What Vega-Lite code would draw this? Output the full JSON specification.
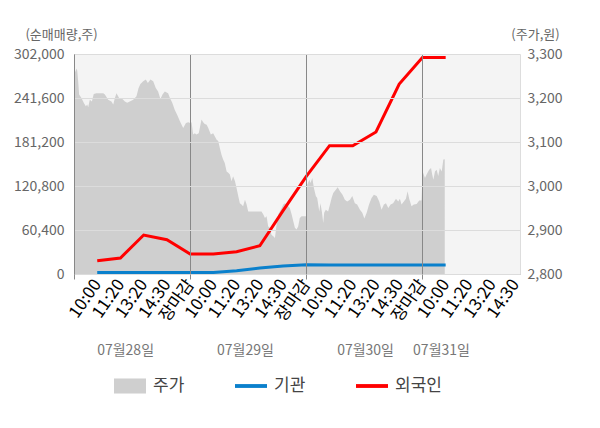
{
  "$schema": "https://vega.github.io/schema/vega-lite/v6.json",
  "width": 446,
  "height": 220,
  "autosize": {"type": "none"},
  "padding": {"left": 74, "top": 54, "right": 80, "bottom": 154},
  "config": {
    "font": "Noto Sans CJK KR",
    "view": {"fill": "#f4f4f4", "stroke": null},
    "axis": {"titleFontWeight": "normal", "labelFontWeight": "normal"}
  },
  "datasets": {
    "price": [
      {"s":0,"price":3253},{"s":0.11,"price":3267},{"s":0.14,"price":3262},{"s":0.18,"price":3238},{"s":0.22,"price":3208},{"s":0.32,"price":3200},{"s":0.42,"price":3189},{"s":0.51,"price":3181},{"s":0.57,"price":3185},{"s":0.61,"price":3179},{"s":0.68,"price":3196},{"s":0.77,"price":3192},{"s":0.85,"price":3209},{"s":0.97,"price":3211},{"s":1.11,"price":3211},{"s":1.26,"price":3211},{"s":1.33,"price":3208},{"s":1.47,"price":3196},{"s":1.61,"price":3192},{"s":1.69,"price":3185},{"s":1.76,"price":3200},{"s":1.83,"price":3211},{"s":1.94,"price":3200},{"s":2.04,"price":3200},{"s":2.19,"price":3192},{"s":2.29,"price":3189},{"s":2.4,"price":3192},{"s":2.55,"price":3196},{"s":2.69,"price":3204},{"s":2.78,"price":3223},{"s":2.86,"price":3232},{"s":2.98,"price":3238},{"s":3.09,"price":3242},{"s":3.18,"price":3234},{"s":3.29,"price":3242},{"s":3.41,"price":3238},{"s":3.52,"price":3223},{"s":3.62,"price":3215},{"s":3.72,"price":3198},{"s":3.81,"price":3208},{"s":3.91,"price":3215},{"s":4.05,"price":3211},{"s":4.13,"price":3200},{"s":4.23,"price":3189},{"s":4.34,"price":3173},{"s":4.44,"price":3162},{"s":4.56,"price":3147},{"s":4.7,"price":3132},{"s":4.82,"price":3143},{"s":4.92,"price":3145},{"s":5.0,"price":3143},
      {"s":5.06,"price":3145},{"s":5.13,"price":3117},{"s":5.2,"price":3120},{"s":5.27,"price":3117},{"s":5.37,"price":3120},{"s":5.49,"price":3151},{"s":5.56,"price":3145},{"s":5.63,"price":3141},{"s":5.71,"price":3139},{"s":5.78,"price":3132},{"s":5.89,"price":3117},{"s":5.99,"price":3120},{"s":6.06,"price":3113},{"s":6.14,"price":3105},{"s":6.21,"price":3102},{"s":6.28,"price":3086},{"s":6.35,"price":3071},{"s":6.42,"price":3060},{"s":6.49,"price":3052},{"s":6.57,"price":3033},{"s":6.64,"price":3030},{"s":6.71,"price":3026},{"s":6.78,"price":3011},{"s":6.85,"price":3022},{"s":6.93,"price":3011},{"s":7.0,"price":2995},{"s":7.07,"price":2977},{"s":7.14,"price":2961},{"s":7.21,"price":2958},{"s":7.28,"price":2954},{"s":7.36,"price":2969},{"s":7.43,"price":2958},{"s":7.5,"price":2942},{"s":7.79,"price":2942},{"s":8.07,"price":2942},{"s":8.15,"price":2935},{"s":8.22,"price":2927},{"s":8.29,"price":2931},{"s":8.36,"price":2908},{"s":8.43,"price":2905},{"s":8.5,"price":2889},{"s":8.58,"price":2886},{"s":8.65,"price":2882},{"s":8.72,"price":2912},{"s":8.79,"price":2935},{"s":8.86,"price":2942},{"s":8.94,"price":2950},{"s":9.01,"price":2958},{"s":9.08,"price":2961},{"s":9.22,"price":2954},{"s":9.29,"price":2950},{"s":9.37,"price":2935},{"s":9.44,"price":2920},{"s":9.51,"price":2905},{"s":9.58,"price":2901},{"s":9.65,"price":2908},{"s":9.72,"price":2927},{"s":9.8,"price":2931},{"s":9.94,"price":2931},{"s":10.0,"price":2931},
      {"s":10.04,"price":3003},{"s":10.13,"price":3014},{"s":10.18,"price":3007},{"s":10.26,"price":3018},{"s":10.33,"price":2995},{"s":10.41,"price":2977},{"s":10.47,"price":2973},{"s":10.56,"price":2942},{"s":10.61,"price":2961},{"s":10.67,"price":2942},{"s":10.73,"price":2916},{"s":10.77,"price":2939},{"s":10.84,"price":2946},{"s":10.94,"price":2942},{"s":11.02,"price":2958},{"s":11.09,"price":2973},{"s":11.16,"price":2984},{"s":11.28,"price":2992},{"s":11.35,"price":2997},{"s":11.45,"price":2988},{"s":11.56,"price":2980},{"s":11.66,"price":2969},{"s":11.76,"price":2965},{"s":11.88,"price":2969},{"s":11.98,"price":2977},{"s":12.09,"price":2961},{"s":12.19,"price":2958},{"s":12.31,"price":2946},{"s":12.41,"price":2939},{"s":12.5,"price":2926},{"s":12.6,"price":2939},{"s":12.7,"price":2958},{"s":12.81,"price":2973},{"s":12.91,"price":2980},{"s":13.03,"price":2977},{"s":13.14,"price":2965},{"s":13.24,"price":2946},{"s":13.34,"price":2958},{"s":13.43,"price":2961},{"s":13.53,"price":2950},{"s":13.63,"price":2958},{"s":13.74,"price":2961},{"s":13.86,"price":2971},{"s":13.96,"price":2965},{"s":14.03,"price":2971},{"s":14.1,"price":2958},{"s":14.2,"price":2965},{"s":14.29,"price":2971},{"s":14.36,"price":2988},{"s":14.43,"price":2971},{"s":14.53,"price":2954},{"s":14.63,"price":2958},{"s":14.75,"price":2959},{"s":14.86,"price":2967},{"s":14.96,"price":2967},
      {"s":15.01,"price":3033},{"s":15.11,"price":3018},{"s":15.18,"price":3026},{"s":15.29,"price":3037},{"s":15.37,"price":3041},{"s":15.42,"price":3026},{"s":15.47,"price":3014},{"s":15.54,"price":3033},{"s":15.61,"price":3037},{"s":15.68,"price":3023},{"s":15.75,"price":3041},{"s":15.83,"price":3033},{"s":15.9,"price":3060},{"s":15.96,"price":3061}
    ],
    "flows": [
      {"s":1,"series":"외국인","v":18300},{"s":2,"series":"외국인","v":22000},{"s":3,"series":"외국인","v":53500},{"s":4,"series":"외국인","v":47100},{"s":5,"series":"외국인","v":27400},{"s":6,"series":"외국인","v":27400},{"s":7,"series":"외국인","v":30600},{"s":8,"series":"외국인","v":38800},{"s":9,"series":"외국인","v":87000},{"s":10,"series":"외국인","v":134000},{"s":11,"series":"외국인","v":176100},{"s":12,"series":"외국인","v":176100},{"s":13,"series":"외국인","v":194900},{"s":14,"series":"외국인","v":260800},{"s":15,"series":"외국인","v":297300},{"s":16,"series":"외국인","v":297300},
      {"s":1,"series":"기관","v":2000},{"s":2,"series":"기관","v":2000},{"s":3,"series":"기관","v":2000},{"s":4,"series":"기관","v":2000},{"s":5,"series":"기관","v":2000},{"s":6,"series":"기관","v":2000},{"s":7,"series":"기관","v":4500},{"s":8,"series":"기관","v":8200},{"s":9,"series":"기관","v":11000},{"s":10,"series":"기관","v":12800},{"s":11,"series":"기관","v":12500},{"s":12,"series":"기관","v":12500},{"s":13,"series":"기관","v":12500},{"s":14,"series":"기관","v":12500},{"s":15,"series":"기관","v":12500},{"s":16,"series":"기관","v":12500}
    ],
    "dates": [
      {"s":2.2,"date":"07월28일"},{"s":7.36,"date":"07월29일"},{"s":12.53,"date":"07월30일"},{"s":15.8,"date":"07월31일"}
    ]
  },
  "layer": [
    {
      "data": {"name": "price"},
      "mark": {"type": "area", "interpolate": "linear"},
      "encoding": {
        "x": {
          "field": "s", "type": "quantitative",
          "scale": {"domain": [0, 19.2], "nice": false, "zero": false},
          "axis": {
            "orient": "bottom",
            "title": null, "values": [1,2,3,4,5,6,7,8,9,10,11,12,13,14,15,16,17,18,19],
            "labelExpr": "datum.value % 5 == 0 ? '장마감' : ['', '10:00', '11:20', '13:20', '14:30'][datum.value % 5]",
            "labelAngle": -55, "labelPadding": 7, "labelFontSize": 17,
            "labelOverlap": false, "labelFlush": false, "labelBound": false,
            "ticks": false, "grid": false, "domain": true, "domainColor": "#888888",
            "encode": {"labels": {"update": {"fill": {"signal": "datum.value % 5 == 0 ? '#ff0000' : (datum.value == 16 ? '#333333' : '#888888')"}}}}
          }
        },
        "y": {
          "field": "price", "type": "quantitative",
          "scale": {"domain": [2800, 3300], "nice": false, "zero": false},
          "axis": {
            "orient": "right", "values": [2800, 2900, 3000, 3100, 3200, 3300], "format": ",.0f",
            "grid": false, "ticks": false, "labelPadding": 7, "labelFontSize": 14, "labelColor": "#666666",
            "domain": true, "domainColor": "#dddddd",
            "title": "(주가,원)", "titleAngle": 0, "titleAlign": "center", "titleBaseline": "middle",
            "titleX": 15, "titleY": -20, "titleFontSize": 13, "titleColor": "#666666"
          }
        },
        "y2": {"datum": 2800},
        "color": {
          "datum": "주가", "type": "nominal",
          "scale": {"domain": ["주가", "기관", "외국인"], "range": ["#cfcfcf", "#0a80cc", "#ff0000"]},
          "legend": {
            "orient": "none", "legendX": 40, "legendY": 316, "direction": "horizontal",
            "title": null, "padding": 0, "symbolSize": 1024, "labelFontSize": 17, "labelColor": "#444444",
            "labelOffset": 7, "columnPadding": 50,
            "encode": {"symbols": {"update": {
              "shape": {"signal": "datum.value == '주가' ? 'M-1,-0.47H1V0.47H-1Z' : 'M-1,-0.12H1V0.12H-1Z'"},
              "fill": {"signal": "scale('color', datum.value)"},
              "stroke": {"value": "transparent"},
              "strokeWidth": {"value": 0},
              "opacity": {"value": 1}
            }}}
          }
        }
      }
    },
    {
      "data": {"name": "flows"},
      "mark": {"type": "line", "strokeWidth": 3},
      "encoding": {
        "x": {
          "field": "s", "type": "quantitative",
          "axis": {
            "orient": "bottom",
            "title": null, "values": [0, 5, 10, 15], "labels": false, "domain": false,
            "ticks": true, "tickSize": 5, "tickColor": "#888888",
            "grid": true, "gridColor": "#888888", "gridOpacity": 1, "zindex": 1
          }
        },
        "y": {
          "field": "v", "type": "quantitative",
          "scale": {"domain": [0, 302000], "nice": false},
          "axis": {
            "orient": "left", "values": [0, 60400, 120800, 181200, 241600, 302000], "format": ",.0f",
            "grid": true, "gridColor": "#dcdcdc", "zindex": 1, "ticks": false,
            "labelPadding": 10, "labelFontSize": 14, "labelColor": "#666666",
            "domain": true, "domainColor": "#888888",
            "title": "(순매매량,주)", "titleAngle": 0, "titleAlign": "center", "titleBaseline": "middle",
            "titleX": -13, "titleY": -20, "titleFontSize": 13, "titleColor": "#666666"
          }
        },
        "color": {"field": "series", "type": "nominal", "legend": {"title": null}}
      }
    },
    {
      "data": {"name": "dates"},
      "mark": {"type": "rule", "opacity": 0},
      "encoding": {
        "x": {
          "field": "s", "type": "quantitative",
          "axis": {
            "orient": "bottom",
            "title": null, "values": [2.2, 7.36, 12.53, 15.8],
            "labelExpr": "datum.value < 5 ? '07월28일' : datum.value < 10 ? '07월29일' : datum.value < 15 ? '07월30일' : '07월31일'",
            "labelAngle": 0, "labelAlign": "center", "labelBaseline": "top",
            "labelPadding": 0, "offset": 69, "labelFontSize": 14, "labelColor": "#777777",
            "labelOverlap": false, "labelFlush": false, "labelBound": false,
            "ticks": false, "domain": false, "grid": false
          }
        }
      }
    }
  ],
  "resolve": {"scale": {"y": "independent"}, "axis": {"x": "independent"}}
}
